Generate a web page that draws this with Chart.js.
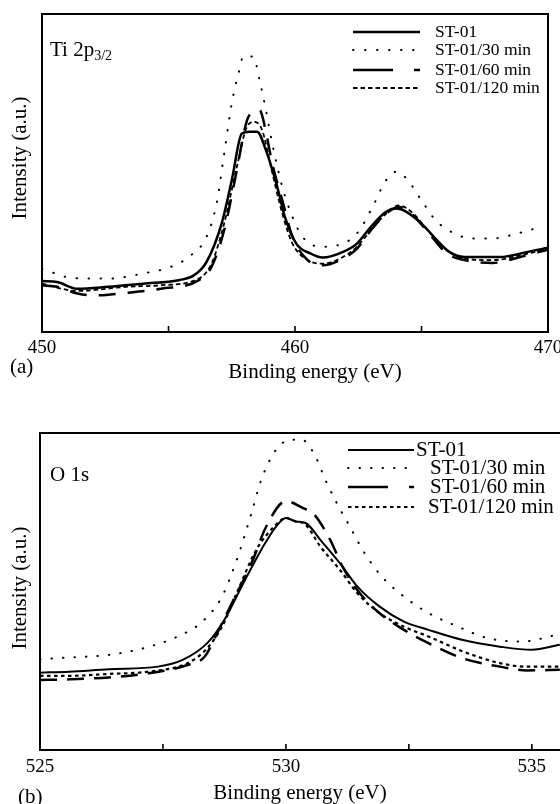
<!DOCTYPE html>
<html><head><meta charset="utf-8">
<script src="https://cdn.jsdelivr.net/npm/chart.js@4"></script>
<style>
html,body{margin:0;padding:0;background:#fff;overflow:hidden;width:560px;height:804px;position:relative}
#ca{position:absolute;left:0;top:0}
#cb{position:absolute;left:0;top:400px}
</style></head><body>
<canvas id="ca" width="580" height="400"></canvas>
<canvas id="cb" width="620" height="404"></canvas>
<script>
// ---------- shared ----------
const seriesNames = ['ST-01', 'ST-01/30 min', 'ST-01/60 min', 'ST-01/120 min'];
const tiTickValues = [450, 455, 460, 465, 470];
const tiTickLabels = ['450', '460', '470'];
const oTickValues = [525, 527.5, 530, 532.5, 535];
const oTickLabels = ['525', '530', '535'];

// ---------- Panel (a): Ti 2p3/2 ----------
const tiE_st01 = [450,450.6,451.4,452.6,454.0,455.4,456.0,456.5,457.1,457.5,457.9,458.2,458.5,458.85,459.3,459.6,460.05,460.6,461.1,461.9,462.45,463.0,463.6,464.0,464.4,465.0,465.55,466.1,466.7,468.1,469.2,470];
const tiI_st01 = [16.0,15.7,13.6,14.2,15.2,16.3,17.8,22.0,34.1,47.7,62.4,63.0,63.0,57.2,45.6,36.2,27.8,24.7,23.4,25.2,27.8,33.1,37.8,38.8,37.8,34.1,29.4,25.2,23.6,23.6,25.2,26.5];

const tiE_30 = [450,451.2,452.6,454.0,455.1,455.8,456.5,456.9,457.2,457.5,457.8,457.95,458.35,458.6,458.85,459.1,459.5,459.9,460.3,461.0,461.7,462.45,463.0,463.6,464.0,464.4,465.0,465.55,466.3,467.0,467.8,468.8,469.8];
const tiI_30 = [19.9,17.0,16.8,18.4,20.5,23.6,29.9,40.4,56.1,71.9,82.4,86.6,86.6,79.2,69.8,59.3,45.6,36.2,29.9,26.8,27.3,31.0,38.3,47.7,50.4,48.3,41.4,35.2,31.0,29.4,29.4,31.0,33.3];

const tiE_60 = [450,450.6,451.4,452.0,453.3,454.7,456.2,456.7,457.2,457.65,458.1,458.4,458.6,458.85,459.1,459.5,459.9,460.5,461.1,461.9,462.45,463.0,463.6,464.1,464.6,465.3,466.0,466.7,467.8,468.9,470];
const tiI_60 = [14.7,14.2,12.1,11.5,12.3,13.6,16.3,20.5,32.0,48.8,66.5,69.5,69.8,63.0,53.0,41.4,29.9,22.6,21.0,23.1,26.2,32.0,37.2,39.3,37.2,31.0,24.7,22.6,21.7,23.6,25.9];

const tiE_120 = [450,451.4,453.3,454.7,456.2,456.7,457.2,457.7,458.1,458.4,458.7,459.05,459.5,459.9,460.5,461.1,461.9,462.45,463.0,463.6,464.1,464.6,465.3,466.0,466.7,467.8,468.9,470];
const tiI_120 = [15.2,12.9,14.2,14.7,16.8,21.5,34.1,51.9,64.5,66.1,63.5,51.9,37.2,27.8,22.6,21.5,23.6,26.8,32.0,37.2,39.8,37.8,31.5,25.7,23.1,22.6,24.1,26.2];

// ---------- Panel (b): O 1s ----------
const oE_st01 = [525.0,525.6,526.4,527.4,527.9,528.4,528.75,529.1,529.5,529.8,530.0,530.2,530.4,530.7,531.1,531.45,531.9,532.4,532.9,533.6,534.35,535.0,535.57];
const oI_st01 = [24.4,24.7,25.5,26.3,28.4,33.7,41.1,51.6,63.2,70.5,73.2,72.1,71.6,66.3,58.9,51.6,45.3,40.5,37.9,34.7,32.6,31.6,33.2];

const oE_30 = [525.0,525.6,526.4,527.1,527.8,528.3,528.7,529.0,529.3,529.5,529.8,530.1,530.35,530.6,530.8,531.0,531.3,531.6,531.95,532.4,532.9,533.5,534.1,534.8,535.5];
const oI_30 = [28.6,29.2,30.0,32.1,35.8,40.5,48.4,60.0,74.7,85.3,94.7,97.9,97.7,92.6,85.3,78.9,70.5,62.1,54.7,48.4,43.2,38.9,35.3,34.2,36.3];

const oE_60 = [525.0,525.6,526.4,527.2,528.0,528.35,528.6,528.9,529.3,529.6,530.0,530.35,530.55,530.9,531.15,531.45,531.9,532.4,532.9,533.6,534.35,534.9,535.57];
const oI_60 = [22.1,22.3,22.9,24.2,26.8,29.5,36.8,46.3,58.9,70.5,78.5,76.3,74.7,66.3,57.9,50.5,43.2,37.9,33.7,28.9,26.3,25.1,25.3];

const oE_120 = [525.0,525.6,526.4,527.2,528.0,528.4,528.7,529.0,529.4,529.8,530.0,530.2,530.4,530.7,531.1,531.45,531.9,532.4,532.9,533.6,534.35,534.9,535.57];
const oI_120 = [23.4,23.4,24.0,24.7,27.4,32.1,38.9,49.5,63.2,71.1,73.2,72.1,71.1,64.2,56.8,49.5,43.2,38.9,35.8,31.1,27.4,26.3,26.3];

function pts(xs, ys) { return xs.map((x, i) => ({x: x, y: ys[i]})); }

const SERIF = '"Liberation Serif", "Times New Roman", serif';

const decoPlugin = {
  id: 'deco',
  afterDatasetsDraw(chart, args, opts) {
    const ctx = chart.ctx;
    const a = chart.chartArea;
    const xs = chart.scales.x;
    ctx.save();
    // frame
    ctx.strokeStyle = '#000';
    ctx.lineWidth = 2;
    ctx.setLineDash([]);
    ctx.strokeRect(a.left, a.top, a.right - a.left, a.bottom - a.top);
    // inward ticks
    ctx.lineWidth = 1.6;
    xs.ticks.forEach(t => {
      const px = xs.getPixelForValue(t.value);
      if (px <= a.left + 2 || px >= a.right - 2) return;
      ctx.beginPath();
      ctx.moveTo(px, a.bottom);
      ctx.lineTo(px, a.bottom - 6);
      ctx.stroke();
    });
    // texts
    ctx.fillStyle = '#000';
    ctx.textBaseline = 'middle';
    (opts.texts || []).forEach(t => {
      ctx.save();
      ctx.font = t.size + 'px ' + SERIF;
      ctx.textAlign = t.align || 'left';
      ctx.translate(t.x, t.y);
      if (t.rot) ctx.rotate(t.rot);
      ctx.fillText(t.text, 0, 0);
      if (t.sub) {
        const w = ctx.measureText(t.text).width;
        ctx.font = t.subSize + 'px ' + SERIF;
        ctx.textAlign = 'left';
        ctx.fillText(t.sub, w, t.subDy);
      }
      ctx.restore();
    });
    // legend
    const L = opts.legend;
    if (L) {
      chart.data.datasets.forEach((ds, i) => {
        const y = L.rows[i];
        ctx.beginPath();
        ctx.lineWidth = ds.borderWidth;
        ctx.lineCap = ds.borderCapStyle || 'butt';
        ctx.setLineDash(L.dashes[i]);
        ctx.moveTo(L.x1, y);
        ctx.lineTo(L.x2, y);
        ctx.stroke();
        ctx.setLineDash([]);
        ctx.font = L.size + 'px ' + SERIF;
        ctx.textAlign = 'left';
        ctx.fillText(ds.label, L.tx[i], y);
      });
    }
    ctx.restore();
  }
};

function makeChart(id, cfg) {
  return new Chart(document.getElementById(id), {
    type: 'line',
    data: { datasets: cfg.datasets },
    options: {
      responsive: false,
      animation: false,
      layout: { padding: cfg.padding },
      elements: { point: { radius: 0 }, line: { cubicInterpolationMode: 'monotone' } },
      plugins: { legend: { display: false }, tooltip: { enabled: false }, deco: cfg.deco },
      scales: {
        x: {
          type: 'linear', min: cfg.xmin, max: cfg.xmax,
          afterBuildTicks: scale => { scale.ticks = cfg.tickValues.map(v => ({ value: v })); },
          grid: { display: false, drawTicks: false },
          border: { display: false },
          ticks: {
            autoSkip: false, maxRotation: 0, padding: cfg.tickPad,
            color: '#000', font: { family: SERIF, size: 19 },
            callback: v => (cfg.tickLabels.indexOf(String(v)) >= 0 ? String(v) : '')
          }
        },
        y: { display: false, min: 0, max: 100 }
      }
    },
    plugins: [decoPlugin]
  });
}

function ds(label, data, w, dash, cap) {
  return { label: label, data: data, borderColor: '#000', backgroundColor: '#000',
           borderWidth: w, borderDash: dash, borderCapStyle: cap || 'butt', fill: false };
}

makeChart('ca', {
  xmin: 450, xmax: 470, tickValues: tiTickValues, tickLabels: tiTickLabels, tickPad: 5,
  padding: { left: 42, right: 32, top: 14, bottom: 35.2 },
  datasets: [
    ds(seriesNames[0], pts(tiE_st01, tiI_st01), 2.5, []),
    ds(seriesNames[1], pts(tiE_30, tiI_30), 2, [0.5, 11.5], 'round'),
    ds(seriesNames[2], pts(tiE_60, tiI_60), 2.5, [17, 12]),
    ds(seriesNames[3], pts(tiE_120, tiI_120), 1.8, [4.5, 3])
  ],
  deco: {
    texts: [
      { text: 'Binding energy (eV)', x: 315, y: 372, size: 21, align: 'center' },
      { text: '(a)', x: 10, y: 367, size: 21 },
      { text: 'Intensity (a.u.)', x: 20, y: 158, size: 21, align: 'center', rot: -Math.PI / 2 },
      { text: 'Ti 2p', x: 50, y: 50, size: 21, sub: '3/2', subSize: 14, subDy: 6 }
    ],
    legend: {
      x1: 353, x2: 420, tx: [435, 435, 435, 435], rows: [32, 50, 70, 88], size: 17.5,
      dashes: [[], [0.5, 11.5], [40, 21, 6, 200], [4.5, 3]]
    }
  }
});

makeChart('cb', {
  xmin: 525, xmax: 536, tickValues: oTickValues, tickLabels: oTickLabels, tickPad: 6,
  padding: { left: 40, right: 39, top: 33, bottom: 19.2 },
  datasets: [
    ds(seriesNames[0], pts(oE_st01, oI_st01), 2, []),
    ds(seriesNames[1], pts(oE_30, oI_30), 2, [0.5, 11], 'round'),
    ds(seriesNames[2], pts(oE_60, oI_60), 2.5, [17, 10]),
    ds(seriesNames[3], pts(oE_120, oI_120), 2.2, [3.5, 3.5])
  ],
  deco: {
    texts: [
      { text: 'Binding energy (eV)', x: 300, y: 393, size: 21, align: 'center' },
      { text: '(b)', x: 18, y: 397, size: 21 },
      { text: 'Intensity (a.u.)', x: 20, y: 188, size: 21, align: 'center', rot: -Math.PI / 2 },
      { text: 'O 1s', x: 50, y: 75, size: 21 }
    ],
    legend: {
      x1: 348, x2: 414, tx: [416, 430, 430, 428], rows: [50, 68, 87, 107], size: 21,
      dashes: [[], [0.5, 11], [40, 21, 6, 200], [3.5, 3.5]]
    }
  }
});
</script>
</body></html>
